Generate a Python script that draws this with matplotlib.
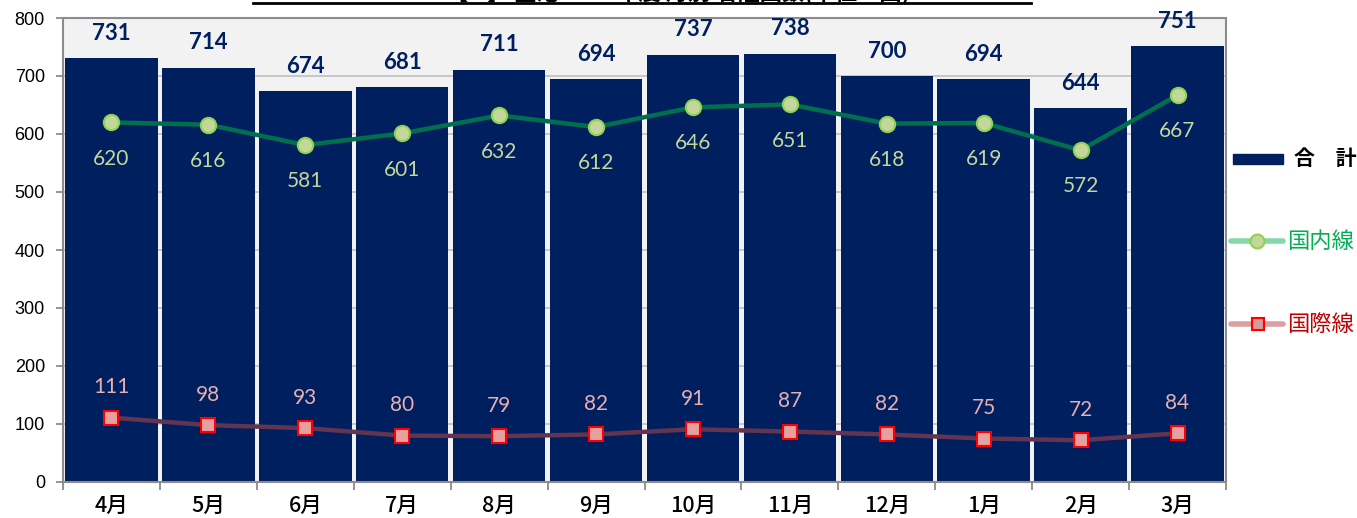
import matplotlib
matplotlib.use("Agg")
import matplotlib.pyplot as plt
from matplotlib.lines import Line2D
from matplotlib.patches import Rectangle
import numpy as np

months = ["4月", "5月", "6月", "7月", "8月", "9月", "10月", "11月", "12月", "1月", "2月", "3月"]
total = [731, 714, 674, 681, 711, 694, 737, 738, 700, 694, 644, 751]
domestic = [620, 616, 581, 601, 632, 612, 646, 651, 618, 619, 572, 667]
international = [111, 98, 93, 80, 79, 82, 91, 87, 82, 75, 72, 84]
yticks = [0, 100, 200, 300, 400, 500, 600, 700, 800]

FAM = ["Lato", "Noto Sans CJK JP", "DejaVu Sans"]
CJK = ["Noto Sans CJK JP", "DejaVu Sans"]
ARIAL = ["Liberation Sans", "DejaVu Sans"]
plt.rcParams["font.family"] = FAM

W, H = 1357, 518
fig = plt.figure(figsize=(W / 100, H / 100), dpi=100)
ax = fig.add_axes([63 / W, 1 - 482 / H, (1226 - 63) / W, (482 - 18) / H])
ax.set_facecolor("#f2f2f2")

x = np.arange(len(months))
navy = "#001f5f"
ax.bar(x, total, width=0.955, color=navy, edgecolor="none", zorder=2)

ax.plot(x, domestic, color="#006f4e", lw=3.2, zorder=3,
        marker="o", ms=11, mfc="#c4d79b", mec="#92d050", mew=1.5)
ax.plot(x, international, color="#63344f", lw=3.2, zorder=3,
        marker="s", ms=9.5, mfc="#e6a0a0", mec="#ff0000", mew=1.5)

for xi, v in zip(x, total):
    ax.annotate(str(v), (xi, v), xytext=(0, 18), textcoords="offset points",
                ha="center", va="center", fontsize=16, fontweight="bold",
                color=navy, zorder=5)
for xi, v in zip(x, domestic):
    ax.annotate(str(v), (xi, v), xytext=(0, -26), textcoords="offset points",
                ha="center", va="center", fontsize=15, color="#c4d79b", zorder=5)
for xi, v in zip(x, international):
    ax.annotate(str(v), (xi, v), xytext=(0, 22), textcoords="offset points",
                ha="center", va="center", fontsize=15, color="#e6b0b0", zorder=5)

ax.set_xlim(-0.5, len(months) - 0.5)
ax.set_ylim(0, 800)
ax.set_yticks(yticks)
ax.set_yticklabels([str(t) for t in yticks], fontsize=13, family=ARIAL)
ax.yaxis.grid(True, color="#bfbfbf", lw=1.2, zorder=0)
ax.set_axisbelow(True)
ax.tick_params(axis="y", length=5, color="#808080", width=1.2, pad=8)

ax.set_xticks(x)
ax.set_xticklabels(months, fontsize=15.5, family=CJK, fontweight="medium")
ax.tick_params(axis="x", length=0, pad=9)
ax.set_xticks(np.arange(-0.5, len(months)), minor=True)
ax.tick_params(axis="x", which="minor", length=6, color="#808080", width=1.2)

for s in ax.spines.values():
    s.set_color("#8c8c8c")
    s.set_linewidth(1.5)

# partially visible title at the very top
fig.text(0.5, 1 - 4 / H, "【M】 空港 2018年度 月別 着陸回数(単位：回)", ha="center",
         va="bottom", fontsize=16, fontweight="bold", color="black", family=CJK)
fig.add_artist(Line2D([253 / W, 1031 / W], [1 - 3 / H, 1 - 3 / H], color="black", lw=2,
                      transform=fig.transFigure))

# legend
fig.add_artist(Rectangle((1233 / W, 1 - 164 / H), 50 / W, 10 / H, color=navy,
                         transform=fig.transFigure))
fig.text(1294 / W, 1 - 159 / H, "合　計", fontsize=15, fontweight="bold", color="black",
         va="center", ha="left", family=CJK)
y1 = 1 - 241 / H
fig.add_artist(Line2D([1231 / W, 1283 / W], [y1, y1], color="#86d8a8", lw=4,
                      solid_capstyle="round", transform=fig.transFigure))
fig.add_artist(Line2D([1257 / W], [y1], marker="o", ms=10, mfc="#c4d79b", mec="#92d050",
                      mew=1.5, transform=fig.transFigure))
fig.text(1287 / W, y1, "国内線", fontsize=16, color="#00b050", va="center", ha="left",
         family=CJK)
y2 = 1 - 324 / H
fig.add_artist(Line2D([1231 / W, 1283 / W], [y2, y2], color="#dca0a0", lw=4,
                      solid_capstyle="round", transform=fig.transFigure))
fig.add_artist(Line2D([1258 / W], [y2], marker="s", ms=9, mfc="#d99a9a", mec="#ff0000",
                      mew=1.5, transform=fig.transFigure))
fig.text(1287 / W, y2, "国際線", fontsize=16, color="#c00000", va="center", ha="left",
         family=CJK)

fig.savefig("out.png", dpi=100, facecolor="white")
